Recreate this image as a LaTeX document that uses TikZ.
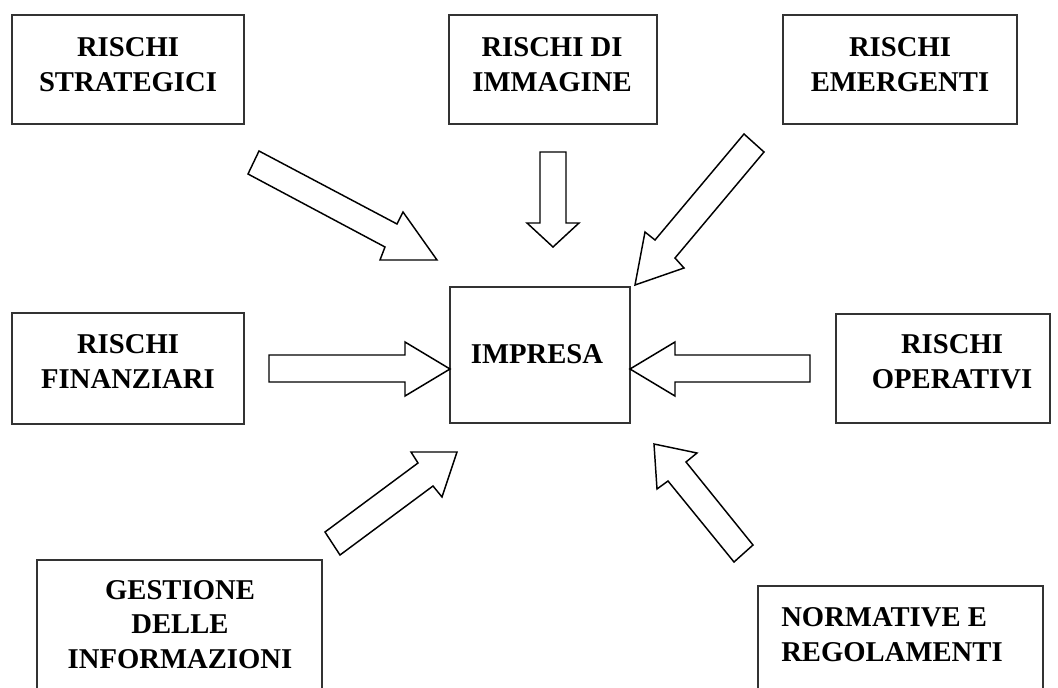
\documentclass[tikz,border=0pt]{standalone}
\usepackage{fontspec}
\setmainfont{Liberation Serif}
\begin{document}
\begin{tikzpicture}[x=0.75pt,y=0.75pt,yscale=-1,xscale=1,
  riskbox/.style={line width=1.5pt, draw=black!80},
  blockarrow/.style={line width=1.1pt, line join=miter, fill=white},
  risklabel/.style={inner sep=0.75pt, align=center, font=\fontsize{21.5}{26}\selectfont\bfseries}]
\useasboundingbox (0,0) rectangle (1058,688);
\clip (0,0) rectangle (1058,688);

%Shape: Rectangle
	\draw [riskbox] (12,15) -- (244,15) -- (244,124) -- (12,124) -- cycle ;
%Shape: Rectangle
	\draw [riskbox] (449,15) -- (657,15) -- (657,124) -- (449,124) -- cycle ;
%Shape: Rectangle
	\draw [riskbox] (783,15) -- (1017,15) -- (1017,124) -- (783,124) -- cycle ;
%Shape: Rectangle
	\draw [riskbox] (12,313) -- (244,313) -- (244,424) -- (12,424) -- cycle ;
%Shape: Rectangle
	\draw [riskbox] (450,287) -- (630,287) -- (630,423) -- (450,423) -- cycle ;
%Shape: Rectangle
	\draw [riskbox] (836,314) -- (1050,314) -- (1050,423) -- (836,423) -- cycle ;
%Shape: Rectangle
	\draw [riskbox] (37,700) -- (37,560) -- (322,560) -- (322,700) ;
%Shape: Rectangle
	\draw [riskbox] (758,700) -- (758,586) -- (1043,586) -- (1043,700) ;

%Shape: Block Arrow
	\draw [blockarrow] (259,151) -- (397,224) -- (403,212) -- (437,260) -- (380,260) -- (385,247) -- (248,174) -- cycle ;
%Shape: Block Arrow
	\draw [blockarrow] (540,152) -- (566,152) -- (566,223) -- (579,223) -- (553,247) -- (527,223) -- (540,223) -- cycle ;
%Shape: Block Arrow
	\draw [blockarrow] (744,134) -- (764,152) -- (675,258) -- (684,268) -- (635,285) -- (645,232) -- (655,240) -- cycle ;
%Shape: Block Arrow
	\draw [blockarrow] (269,355) -- (405,355) -- (405,342) -- (450,369) -- (405,396) -- (405,382) -- (269,382) -- cycle ;
%Shape: Block Arrow
	\draw [blockarrow] (810,355) -- (675,355) -- (675,342) -- (630,369) -- (675,396) -- (675,382) -- (810,382) -- cycle ;
%Shape: Block Arrow
	\draw [blockarrow] (325,532) -- (418,463) -- (411,452) -- (457,452) -- (442,497) -- (433,486) -- (340,555) -- cycle ;
%Shape: Block Arrow
	\draw [blockarrow] (753,545) -- (686,462) -- (697,453) -- (654,444) -- (657,489) -- (668,481) -- (734,562) -- cycle ;

% Text Node
	\draw (128,64.5) node [risklabel] (strat) {RISCHI\\STRATEGICI};
% Text Node
	\draw (552,64.5) node [risklabel] (immag) {RISCHI DI\\IMMAGINE};
% Text Node
	\draw (900,64.5) node [risklabel] (emerg) {RISCHI\\EMERGENTI};
% Text Node
	\draw (128,361.5) node [risklabel] (finanz) {RISCHI\\FINANZIARI};
% Text Node
	\draw (537,354) node [risklabel] (impresa) {IMPRESA};
% Text Node
	\draw (952,361.5) node [risklabel] (operat) {RISCHI\\OPERATIVI};
% Text Node
	\draw (180,624.5) node [risklabel] (gestione) {GESTIONE\\DELLE\\INFORMAZIONI};
% Text Node
	\draw (780,634.5) node [risklabel, anchor=west, align=left] (normat) {NORMATIVE E\\REGOLAMENTI};

\end{tikzpicture}
\end{document}
